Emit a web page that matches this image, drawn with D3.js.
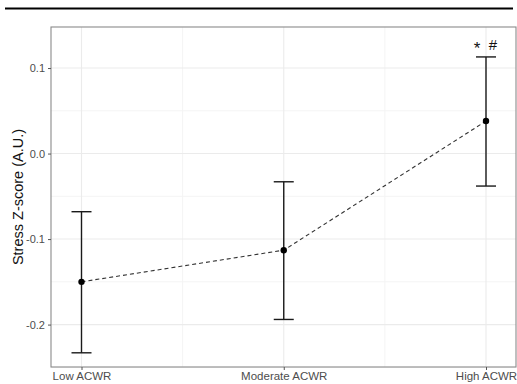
<!DOCTYPE html>
<html>
<head>
<meta charset="utf-8">
<script src="https://cdn.jsdelivr.net/npm/d3@7.9.0/dist/d3.min.js"></script>
<style>
  body { margin: 0; background: #fff; }
  svg { display: block; font-family: "Liberation Sans", Arial, sans-serif; }
</style>
</head>
<body>
<div id="chart"></div>
<script>
const categories = ['Low ACWR', 'Moderate ACWR', 'High ACWR'];
const means = [-0.150, -0.113, 0.038];
const upper = [-0.068, -0.033, 0.113];
const lower = [-0.233, -0.194, -0.038];
const yTicks = [-0.2, -0.1, 0.0, 0.1];
const yMinor = [-0.25, -0.15, -0.05, 0.05];
const annotation = ['*', '#'];

const data = categories.map((c, i) => ({ cat: c, mean: means[i], hi: upper[i], lo: lower[i] }));

const width = 517;
const height = 384;
const panel = { left: 51, right: 516, top: 27, bottom: 367 };

const svg = d3.select('#chart').append('svg')
  .attr('width', width)
  .attr('height', height);

// top rule
svg.append('line')
  .attr('x1', 5).attr('x2', 513)
  .attr('y1', 8.5).attr('y2', 8.5)
  .attr('stroke', '#000').attr('stroke-width', 2);

const xScale = d3.scalePoint()
  .domain(categories)
  .range([81.5, 486]);

const yScale = d3.scaleLinear()
  .domain([-0.2496, 0.148])
  .range([panel.bottom, panel.top]);

// minor gridlines
const step = xScale.step();
const xMinor = categories.slice(1).map(c => xScale(c) - step / 2);
svg.append('g').selectAll('line')
  .data(yMinor)
  .join('line')
  .attr('x1', panel.left).attr('x2', panel.right)
  .attr('y1', d => yScale(d)).attr('y2', d => yScale(d))
  .attr('stroke', '#f4f4f4').attr('stroke-width', 1);
svg.append('g').selectAll('line')
  .data(xMinor)
  .join('line')
  .attr('x1', d => d).attr('x2', d => d)
  .attr('y1', panel.top).attr('y2', panel.bottom)
  .attr('stroke', '#f4f4f4').attr('stroke-width', 1);

// major gridlines
svg.append('g').selectAll('line')
  .data(yTicks)
  .join('line')
  .attr('x1', panel.left).attr('x2', panel.right)
  .attr('y1', d => yScale(d)).attr('y2', d => yScale(d))
  .attr('stroke', '#ebebeb').attr('stroke-width', 1.1);
svg.append('g').selectAll('line')
  .data(categories)
  .join('line')
  .attr('x1', d => xScale(d)).attr('x2', d => xScale(d))
  .attr('y1', panel.top).attr('y2', panel.bottom)
  .attr('stroke', '#ebebeb').attr('stroke-width', 1.1);

// panel border
svg.append('rect')
  .attr('x', panel.left).attr('y', panel.top)
  .attr('width', panel.right - panel.left)
  .attr('height', panel.bottom - panel.top)
  .attr('fill', 'none')
  .attr('stroke', '#8a8a8a')
  .attr('stroke-width', 1.1);

// Y axis (hyphen minus, like the original)
const yAxis = svg.append('g')
  .attr('transform', `translate(${panel.left},0)`)
  .call(d3.axisLeft(yScale).tickValues(yTicks)
    .tickFormat(d => d.toFixed(1).replace('−', '-'))
    .tickSize(3).tickPadding(3));
yAxis.select('.domain').remove();
yAxis.selectAll('line').attr('stroke', '#555');
yAxis.selectAll('text').attr('fill', '#4d4d4d').style('font-size', '11px');

// X axis
const xAxis = svg.append('g')
  .attr('transform', `translate(0,${panel.bottom})`)
  .call(d3.axisBottom(xScale).tickSize(3).tickPadding(2));
xAxis.select('.domain').remove();
xAxis.selectAll('line').attr('stroke', '#555');
xAxis.selectAll('text').attr('fill', '#4d4d4d').style('font-size', '11.5px');

// Y title
svg.append('text')
  .attr('transform', `translate(23,${(panel.top + panel.bottom) / 2}) rotate(-90)`)
  .attr('text-anchor', 'middle')
  .attr('fill', '#111')
  .style('font-size', '14.5px')
  .text('Stress Z-score (A.U.)');

// dashed line
svg.append('path')
  .datum(data)
  .attr('fill', 'none')
  .attr('stroke', '#333')
  .attr('stroke-width', 1.1)
  .attr('stroke-dasharray', '4,3')
  .attr('d', d3.line().x(d => xScale(d.cat)).y(d => yScale(d.mean)));

// error bars
const eb = svg.append('g').attr('stroke', '#1a1a1a').attr('stroke-width', 1.4);
eb.selectAll('line.v').data(data).join('line')
  .attr('x1', d => xScale(d.cat)).attr('x2', d => xScale(d.cat))
  .attr('y1', d => yScale(d.hi)).attr('y2', d => yScale(d.lo));
eb.selectAll('line.t').data(data).join('line')
  .attr('x1', d => xScale(d.cat) - 10).attr('x2', d => xScale(d.cat) + 10)
  .attr('y1', d => yScale(d.hi)).attr('y2', d => yScale(d.hi));
eb.selectAll('line.b').data(data).join('line')
  .attr('x1', d => xScale(d.cat) - 10).attr('x2', d => xScale(d.cat) + 10)
  .attr('y1', d => yScale(d.lo)).attr('y2', d => yScale(d.lo));

// points
svg.append('g').selectAll('circle').data(data).join('circle')
  .attr('cx', d => xScale(d.cat))
  .attr('cy', d => yScale(d.mean))
  .attr('r', 3.2)
  .attr('fill', '#000');

// significance marks
const hx = xScale('High ACWR');
svg.append('text')
  .attr('x', hx - 9).attr('y', 54)
  .attr('text-anchor', 'middle')
  .style('font-size', '17px')
  .attr('fill', '#111')
  .text(annotation[0]);
svg.append('text')
  .attr('x', hx + 7).attr('y', 50)
  .attr('text-anchor', 'middle')
  .style('font-size', '15px')
  .attr('fill', '#111')
  .text(annotation[1]);
</script>
</body>
</html>
